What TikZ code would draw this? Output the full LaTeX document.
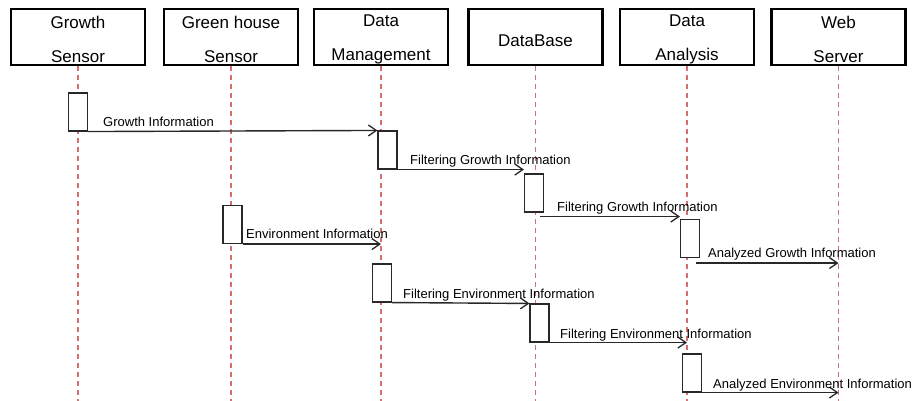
\documentclass[tikz,border=0pt]{standalone}
\usepackage{fontspec}
\setmainfont{Liberation Sans}
\usetikzlibrary{arrows.meta}
\definecolor{lifered}{RGB}{214,112,112}
\definecolor{msgcol}{RGB}{40,40,40}
\newcommand{\toplift}{\rule{0pt}{17pt}}
\tikzset{
  header/.style={draw=black, line width=2.6pt, fill=white, minimum width=134pt,
    minimum height=56pt, inner sep=0pt, align=center,
    font=\fontsize{17}{34}\selectfont},
  lifeline/.style={draw=lifered, line width=1.8pt, dash pattern=on 5pt off 4pt},
  actbox/.style={draw=msgcol, line width=1.1pt, fill=white, minimum width=19pt,
    minimum height=38pt, inner sep=0pt},
  msg/.style={draw=msgcol, line width=1.4pt,
    -{Straight Barb[length=8pt,width=11pt,line width=1.3pt]}},
  lbl/.style={anchor=base west, inner sep=0pt, text=black,
    font=\fontsize{13}{15}\selectfont}
}
\begin{document}
\begin{tikzpicture}[x=1pt, y=-1pt]
  \useasboundingbox (0,0) rectangle (917,401);

  % participants
  \node[header] (gs) at (78,37)    {\toplift Growth\\Sensor};
  \node[header] (gh) at (231,37)   {\toplift Green house\\Sensor};
  \node[header] (dm) at (381,37)   {\toplift Data\\Management};
  \node[header] (db) at (535.5,37) {\rule{0pt}{19pt}DataBase};
  \node[header] (da) at (687,37)   {\toplift Data\\Analysis};
  \node[header] (ws) at (838.5,37) {\toplift Web\\Server};

  % lifelines
  \foreach \p in {gs,gh,dm,db,da,ws} {
    \coordinate (\p-end) at (\p.south |- 0,401);
    \draw[lifeline] (\p.south) -- (\p-end);
  }

  % activation bars
  \node[actbox] (ga)  at (78,112)    {};
  \node[actbox] (dm1) at (387.5,150) {};
  \node[actbox] (db1) at (534,193)   {};
  \node[actbox] (da1) at (690,238.5) {};
  \node[actbox] (ghA) at (232.5,224.5) {};
  \node[actbox] (dm2) at (382,283)   {};
  \node[actbox] (db2) at (539.5,323) {};
  \node[actbox] (da2) at (692,373)   {};

  % growth information flow
  \draw[msg] (ga.south east) -- (dm1.north west);
  \node[lbl] (l1) at (103,126) {Growth Information};

  \draw[msg] (dm1.south east) -- (dm1.south east -| db1.west);
  \node[lbl] (l2) at (410,164) {Filtering Growth Information};

  \draw[msg] ([xshift=-4pt,yshift=-4pt]db1.south east) -- ([yshift=-4pt]db1.south east -| da1.west);
  \node[lbl] (l3) at (557,211) {Filtering Growth Information};

  \draw[msg] ([xshift=-4pt,yshift=-5pt]da1.south east) -- ([yshift=-5pt]da1.south east -| ws.south);
  \node[lbl] (l4) at (708,257) {Analyzed Growth Information};

  % environment information flow
  \draw[msg] (ghA.south east) -- (ghA.south east -| dm.south);
  \node[lbl] (l5) at (246,238) {Environment Information};

  \draw[msg] (dm2.south east) -- (db2.north west);
  \node[lbl] (l6) at (403,298) {Filtering Environment Information};

  \draw[msg] (db2.south east) -- (db2.south east -| da.south);
  \node[lbl] (l7) at (560,338) {Filtering Environment Information};

  \draw[msg] (da2.south east) -- (da2.south east -| ws.south);
  \node[lbl] (l8) at (713,388) {Analyzed Environment Information};
\end{tikzpicture}
\end{document}
